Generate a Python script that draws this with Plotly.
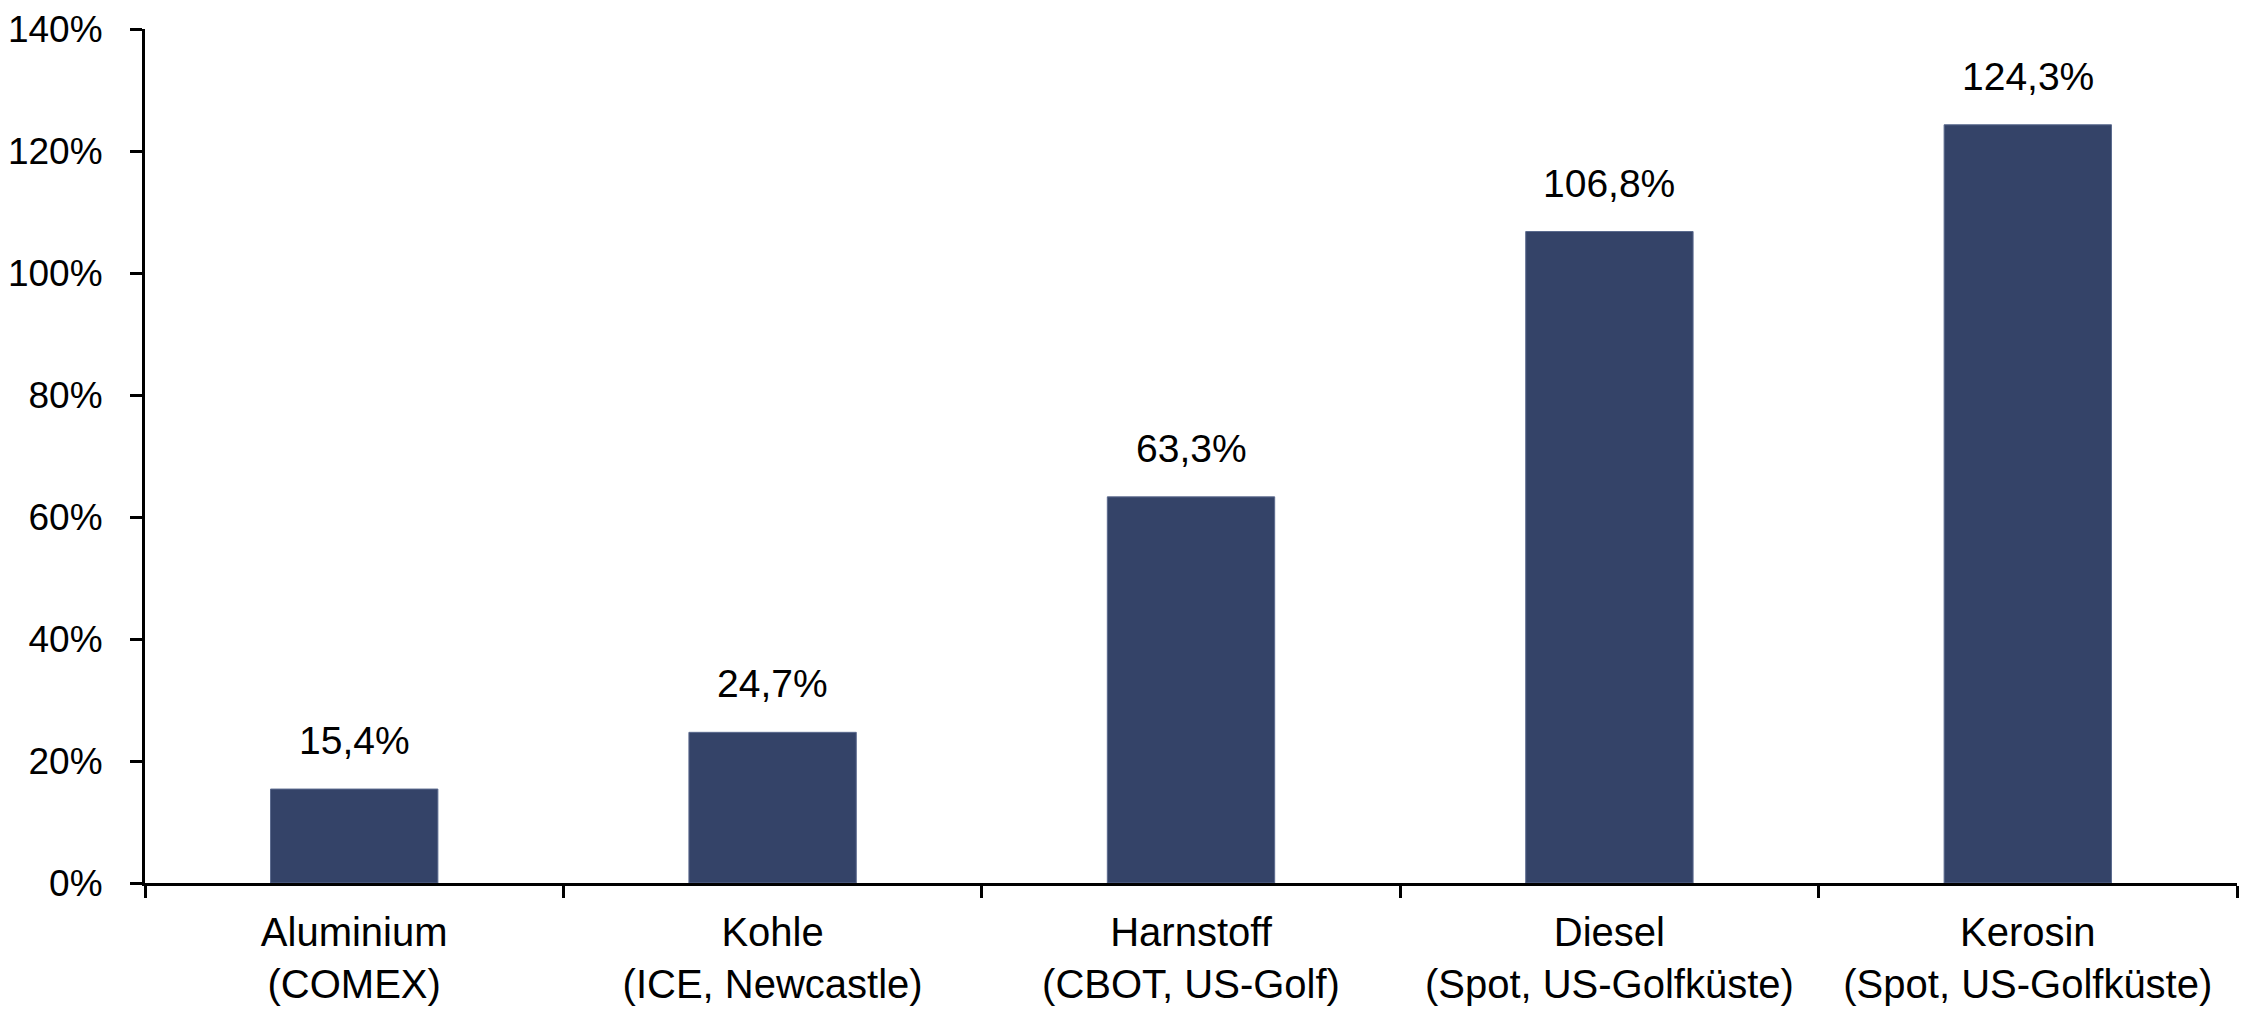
import plotly.graph_objects as go

categories = [
    "Aluminium<br>(COMEX)",
    "Kohle<br>(ICE, Newcastle)",
    "Harnstoff<br>(CBOT, US-Golf)",
    "Diesel<br>(Spot, US-Golfküste)",
    "Kerosin<br>(Spot, US-Golfküste)",
]
values = [15.4, 24.7, 63.3, 106.8, 124.3]
y_ticks = [0, 20, 40, 60, 80, 100, 120, 140]

labels = [f"{v:.1f}".replace(".", ",") + "%" for v in values]

FONT = "Liberation Sans, Arial, sans-serif"
BAR_COLOR = "#344368"

fig = go.Figure()
fig.add_trace(go.Bar(
    x=categories,
    y=values,
    marker=dict(color=BAR_COLOR, line=dict(color="#5b6a8e", width=1)),
    hoverinfo="skip",
))

for c, v, t in zip(categories, values, labels):
    fig.add_annotation(
        x=c, y=v, text=t, showarrow=False,
        yanchor="bottom", yshift=25,
        font=dict(family=FONT, size=39, color="#000000"),
    )

fig.update_layout(
    width=2250, height=1012,
    margin=dict(l=145, r=13, t=29, b=129),
    paper_bgcolor="white", plot_bgcolor="white",
    showlegend=False,
    bargap=0.6,
    font=dict(family=FONT, color="#000000"),
)
fig.update_xaxes(
    type="category", automargin=False,
    showline=True, linecolor="#000000", linewidth=3,
    ticks="outside", tickson="boundaries", ticklen=12, tickwidth=3, tickcolor="#000000",
    tickfont=dict(family=FONT, size=40, color="#000000"),
    ticklabelstandoff=12,
    showgrid=False, zeroline=False,
)
fig.update_yaxes(
    range=[0, 140], automargin=False,
    tickvals=y_ticks,
    ticktext=[f"{t}%" for t in y_ticks],
    showline=True, linecolor="#000000", linewidth=3,
    ticks="outside", ticklen=12, tickwidth=3, tickcolor="#000000",
    tickfont=dict(family=FONT, size=37, color="#000000"),
    ticklabelstandoff=20,
    showgrid=False, zeroline=False,
)

fig.write_html("out.html")
